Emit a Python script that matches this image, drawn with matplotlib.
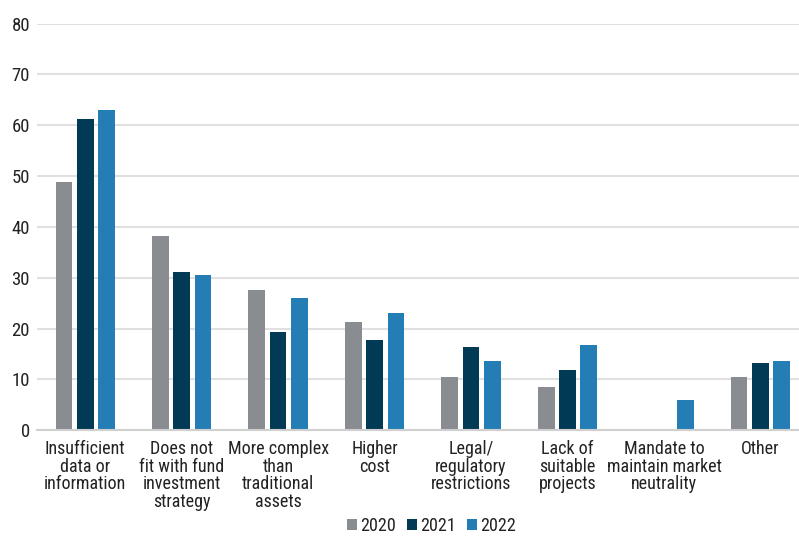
import numpy as np
import matplotlib.pyplot as plt

plt.rcParams['font.family'] = ['Roboto Condensed', 'DejaVu Sans']

categories = [
    "Insufficient\ndata or\ninformation",
    "Does not\nfit with fund\ninvestment\nstrategy",
    "More complex\nthan\ntraditional\nassets",
    "Higher\ncost",
    "Legal/\nregulatory\nrestrictions",
    "Lack of\nsuitable\nprojects",
    "Mandate to\nmaintain market\nneutrality",
    "Other",
]
years = ["2020", "2021", "2022"]
v2020 = [48.8, 38.2, 27.6, 21.2, 10.5, 8.4, np.nan, 10.5]
v2021 = [61.2, 31.2, 19.3, 17.8, 16.3, 11.8, np.nan, 13.3]
v2022 = [63.0, 30.6, 26.0, 23.0, 13.7, 16.8, 6.0, 13.7]
colors = ["#898C90", "#003A55", "#247EB5"]

fig = plt.figure(figsize=(7.99, 5.37), dpi=100)
ax = fig.add_axes([37 / 799, 0.199, 1 - 37 / 799, 0.757])

x = np.arange(len(categories))
step = 0.221
width = 0.173
for i, (vals, c, yr) in enumerate(zip([v2020, v2021, v2022], colors, years)):
    ax.bar(x + (i - 1) * step, vals, width, color=c, label=yr, zorder=3)

ax.set_ylim(0, 80)
ax.set_xlim(-0.5, 7.4)
ax.set_yticks(range(0, 81, 10))
ax.yaxis.grid(True, color="#E0E0E0", linewidth=1.5, zorder=0)
for s in ["top", "right", "left"]:
    ax.spines[s].set_visible(False)
ax.spines["bottom"].set_color("#D0D0D0")
ax.spines["bottom"].set_linewidth(1.5)
ax.spines["bottom"].set_zorder(4)
ax.tick_params(axis="both", length=0, colors="#222222")
ax.tick_params(axis="y", labelsize=13.5, pad=5)
ax.tick_params(axis="x", labelsize=13, pad=7)
ax.set_xticks(x)
ax.set_xticklabels(categories, linespacing=0.98, va="top")

fig.legend(loc="lower center", bbox_to_anchor=(0.54, -0.026), ncol=3, frameon=False,
           fontsize=13, handlelength=0.55, handleheight=0.55, handletextpad=0.2,
           columnspacing=0.6, labelcolor="#222222")

fig.savefig("out.png", dpi=100)
